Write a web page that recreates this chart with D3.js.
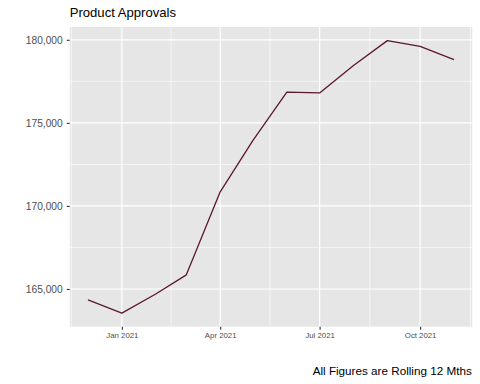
<!doctype html>
<html lang="en">
    <head>
        <meta charset="utf-8">
        <title>Product Approvals</title>
        <style>
            body { margin: 0; background: #fff; }
            svg { display: block; font-family: "Liberation Sans", Arial, sans-serif; }
        </style>
    </head>
    <body>
        <svg></svg>
        <script src="https://d3js.org/d3.v7.min.js"></script>
        <script>
            //Chart data, one point per month (rolling 12 months)
            var months = ["2020-12-01", "2021-01-01", "2021-02-01", "2021-03-01", "2021-04-01", "2021-05-01",
                          "2021-06-01", "2021-07-01", "2021-08-01", "2021-09-01", "2021-10-01", "2021-11-01"];
            var approvals = [164350, 163550, 164700, 165850, 170850, 173950,
                             176850, 176800, 178450, 179950, 179600, 178800];
            var yTicks = [165000, 170000, 175000, 180000];
            var xTicks = ["2021-01-01", "2021-04-01", "2021-07-01", "2021-10-01"];
            var titleText = "Product Approvals";
            var captionText = "All Figures are Rolling 12 Mths";

            //Size of the page and the grey panel
            var svgWidth = 480;
            var svgHeight = 384;
            var panel = {left: 69.7, right: 472.3, top: 27, bottom: 326.7};

            var svg = d3.select("svg")
                .attr("width", svgWidth)
                .attr("height", svgHeight);

            var data = months.map(function(m, i) {
                return {date: new Date(m + "T00:00:00Z"), value: approvals[i]};
            });
            var tickDates = xTicks.map(function(d) { return new Date(d + "T00:00:00Z"); });

            //ggplot style 5% expansion on both scales
            var xExtent = d3.extent(data, function(d) { return +d.date; });
            var xPad = (xExtent[1] - xExtent[0]) * 0.05;
            var x = d3.scaleUtc()
                .domain([new Date(xExtent[0] - xPad), new Date(xExtent[1] + xPad)])
                .range([panel.left, panel.right]);

            var yExtent = d3.extent(approvals);
            var yPad = (yExtent[1] - yExtent[0]) * 0.05;
            var y = d3.scaleLinear()
                .domain([yExtent[0] - yPad, yExtent[1] + yPad])
                .range([panel.bottom, panel.top]);

            //Panel background
            svg.append("rect")
                .attr("x", panel.left)
                .attr("y", panel.top)
                .attr("width", panel.right - panel.left)
                .attr("height", panel.bottom - panel.top)
                .style("fill", "#E6E6E6");

            //Minor breaks sit half way between the major ones
            var yStep = yTicks[1] - yTicks[0];
            var yMinor = [];
            for (var v = yTicks[0] - yStep / 2; v <= yTicks[yTicks.length - 1] + yStep; v += yStep) {
                if (v >= y.domain()[0] && v <= y.domain()[1]) yMinor.push(v);
            }
            var xMinor = [];
            var before = d3.utcMonth.offset(tickDates[0], -3);
            var after = d3.utcMonth.offset(tickDates[tickDates.length - 1], 3);
            var allMajor = [before].concat(tickDates, [after]);
            for (var i = 0; i < allMajor.length - 1; i++) {
                var mid = new Date((+allMajor[i] + +allMajor[i + 1]) / 2);
                if (mid >= x.domain()[0] && mid <= x.domain()[1]) xMinor.push(mid);
            }

            var grid = svg.append("g").style("stroke", "#fff");
            grid.selectAll(".ymin").data(yMinor).enter().append("line")
                .attr("x1", panel.left).attr("x2", panel.right)
                .attr("y1", function(d) { return y(d); }).attr("y2", function(d) { return y(d); })
                .style("stroke-width", 0.6);
            grid.selectAll(".xmin").data(xMinor).enter().append("line")
                .attr("y1", panel.top).attr("y2", panel.bottom)
                .attr("x1", function(d) { return x(d); }).attr("x2", function(d) { return x(d); })
                .style("stroke-width", 0.6);
            grid.selectAll(".ymaj").data(yTicks).enter().append("line")
                .attr("x1", panel.left).attr("x2", panel.right)
                .attr("y1", function(d) { return y(d); }).attr("y2", function(d) { return y(d); })
                .style("stroke-width", 1.2);
            grid.selectAll(".xmaj").data(tickDates).enter().append("line")
                .attr("y1", panel.top).attr("y2", panel.bottom)
                .attr("x1", function(d) { return x(d); }).attr("x2", function(d) { return x(d); })
                .style("stroke-width", 1.2);

            //The line itself
            var line = d3.line()
                .x(function(d) { return x(d.date); })
                .y(function(d) { return y(d.value); });
            svg.append("path")
                .datum(data)
                .attr("d", line)
                .style("fill", "none")
                .style("stroke", "#5A1830")
                .style("stroke-width", 1.3)
                .style("stroke-linejoin", "round");

            //Axes
            var yAxis = svg.append("g")
                .attr("transform", "translate(" + panel.left + ",0)")
                .call(d3.axisLeft(y).tickValues(yTicks).tickSize(3).tickPadding(4).tickFormat(d3.format(",")));
            yAxis.select(".domain").remove();
            yAxis.selectAll("line").style("stroke", "#333").style("stroke-width", 1.1);
            yAxis.selectAll("text").style("fill", "#4D4D4D").style("font-size", "10.2px")
                .style("font-family", "Liberation Sans, Arial, sans-serif");

            var xAxis = svg.append("g")
                .attr("transform", "translate(0," + panel.bottom + ")")
                .call(d3.axisBottom(x).tickValues(tickDates).tickSize(3).tickPadding(2.5).tickFormat(d3.utcFormat("%b %Y")));
            xAxis.select(".domain").remove();
            xAxis.selectAll("line").style("stroke", "#333").style("stroke-width", 1.1);
            xAxis.selectAll("text").style("fill", "#4D4D4D").style("font-size", "7.8px")
                .style("font-family", "Liberation Sans, Arial, sans-serif");

            //Title and caption
            svg.append("text")
                .attr("x", panel.left)
                .attr("y", 17)
                .style("font-size", "13.1px")
                .style("fill", "#000")
                .text(titleText);
            svg.append("text")
                .attr("x", panel.right - 0.5)
                .attr("y", 375)
                .attr("text-anchor", "end")
                .style("font-size", "11.7px")
                .style("fill", "#000")
                .text(captionText);
        </script>
    </body>
</html>
